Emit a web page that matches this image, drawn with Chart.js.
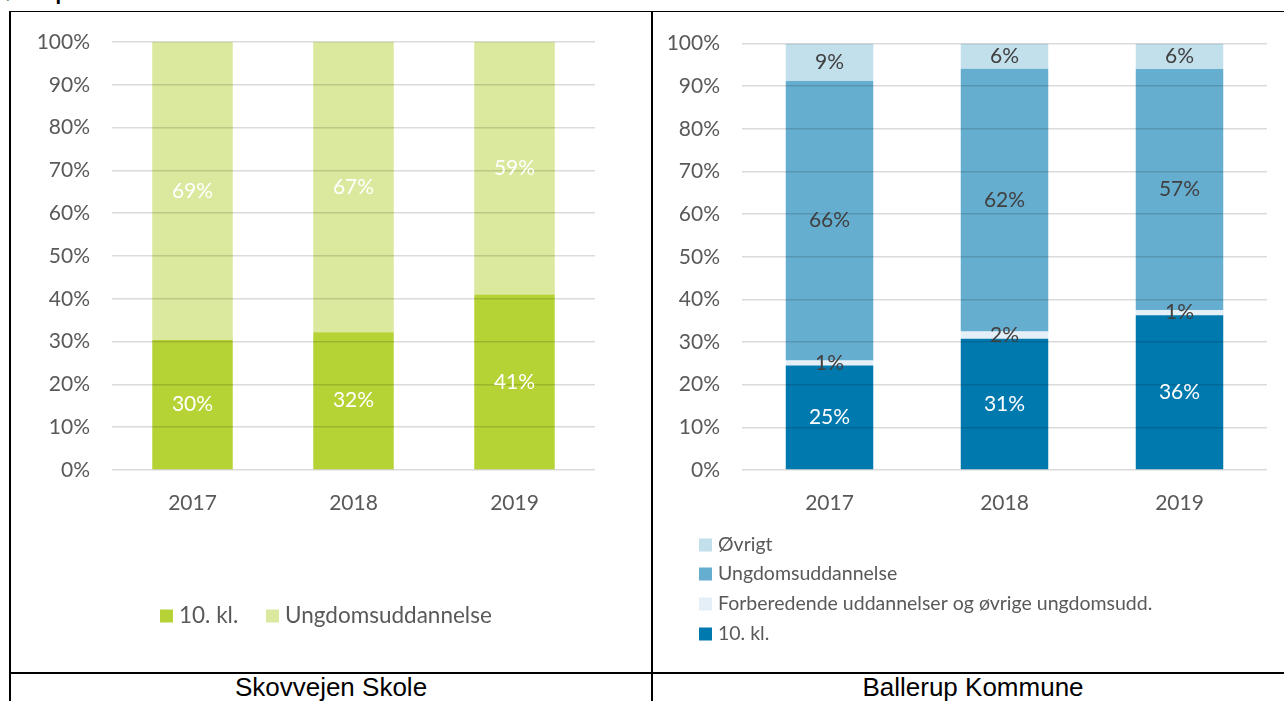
<!DOCTYPE html>
<html>
<head>
<meta charset="utf-8">
<script src="https://cdn.jsdelivr.net/npm/chart.js@4.4.1/dist/chart.umd.min.js"></script>
<style>
    body { margin: 0; width: 1284px; height: 701px; background: #fff; position: relative; overflow: hidden; font-family: 'Liberation Sans', Arial, sans-serif; }
    #heading { position: absolute; left: 0; top: -18px; font-weight: bold; font-size: 20px; color: #000; }
    .line { position: absolute; background: #000; }
    .box { position: absolute; top: 13px; height: 659px; }
    .caption { position: absolute; top: 672px; font-size: 26px; text-align: center; color: #000; }
</style>
</head>
<body>
<div id="heading">førsteprioritet.</div>

<div class="line" style="left:9px; top:11px; width:1275px; height:1px;"></div>
<div class="line" style="left:9px; top:11px; width:2px; height:690px;"></div>
<div class="line" style="left:651px; top:11px; width:2px; height:690px;"></div>
<div class="line" style="left:9px; top:672px; width:1275px; height:2px;"></div>

<div class="box" style="left:12px; width:638px;"><canvas id="skoleChart"></canvas></div>
<div class="box" style="left:654px; width:630px;"><canvas id="kommuneChart"></canvas></div>

<div class="caption" style="left:11px; width:640px;">Skovvejen Skole</div>
<div class="caption" style="left:653px; width:640px;">Ballerup Kommune</div>

<script>
// Data (andel i procent)
const years = ['2017', '2018', '2019'];
const yTicks = [0, 10, 20, 30, 40, 50, 60, 70, 80, 90, 100];

// Skovvejen Skole
const skoleTiendeKl = [30.4, 32.2, 41.0];
const skoleUngdom = [69.6, 67.8, 59.0];

// Ballerup Kommune
const kommuneTiendeKl = [24.5, 30.8, 36.3];
const kommuneForberedende = [1.2, 1.7, 1.2];
const kommuneUngdom = [65.5, 61.6, 56.5];
const kommuneOevrigt = [8.8, 5.9, 6.0];

const fontFamily = 'Lato, "Open Sans", sans-serif';
const textGrey = '#595959';

// labels in the middle of each bar segment
const barLabels = {
    id: 'barLabels',
    afterDraw(chart, args, opts) {
        const ctx = chart.ctx;
        const fmt = opts.round || Math.round;
        ctx.save();
        ctx.font = '21px ' + fontFamily;
        ctx.textAlign = 'center';
        ctx.textBaseline = 'middle';
        chart.data.datasets.forEach((ds, i) => {
            const meta = chart.getDatasetMeta(i);
            meta.data.forEach((bar, j) => {
                const { x, y, base } = bar.getProps(['x', 'y', 'base'], true);
                ctx.fillStyle = ds.labelColor;
                ctx.fillText(fmt(ds.data[j]) + '%', x, (y + base) / 2);
            });
        });
        ctx.restore();
    }
};

// simple legend with square boxes, placed by the options
const boxLegend = {
    id: 'boxLegend',
    afterDraw(chart, args, opts) {
        const ctx = chart.ctx;
        ctx.save();
        ctx.font = opts.fontSize + 'px ' + fontFamily;
        ctx.textBaseline = 'middle';
        ctx.textAlign = 'left';
        opts.items.forEach(item => {
            const ds = chart.data.datasets[item.index];
            ctx.fillStyle = ds.backgroundColor;
            ctx.fillRect(item.x, item.y - 6.5, 13, 13);
            ctx.fillStyle = textGrey;
            ctx.fillText(ds.label, item.x + 19, item.y);
        });
        ctx.restore();
    }
};

function makeOptions(axisWidth, padding, legend, round) {
    return {
        responsive: true,
        maintainAspectRatio: false,
        animation: false,
        layout: { padding: padding },
        scales: {
            x: {
                stacked: true,
                grid: { display: false },
                border: { display: false },
                ticks: { color: textGrey, font: { family: fontFamily, size: 21 }, padding: 13 },
                afterFit: s => { s.height = 60; }
            },
            y: {
                stacked: true,
                min: 0,
                max: 100,
                afterBuildTicks: s => { s.ticks = yTicks.map(v => ({ value: v })); },
                grid: { color: 'rgba(0,0,0,0.14)', lineWidth: 1.5, drawTicks: false, z: 1 },
                border: { display: false },
                ticks: {
                    color: textGrey,
                    font: { family: fontFamily, size: 21 },
                    padding: 22,
                    callback: v => v + '%'
                },
                afterFit: s => {
                    s.width = axisWidth;
                    s.paddingTop = 12;
                    s.paddingBottom = 12;
                }
            }
        },
        plugins: {
            legend: { display: false },
            tooltip: { enabled: false },
            boxLegend: legend,
            barLabels: { round: round }
        }
    };
}

document.addEventListener('DOMContentLoaded', () => {
    new Chart(document.getElementById('skoleChart'), {
        type: 'bar',
        data: {
            labels: years,
            datasets: [
                { label: '10. kl.', data: skoleTiendeKl, backgroundColor: '#b5d334', labelColor: '#ffffff', barPercentage: 0.5, categoryPercentage: 1 },
                { label: 'Ungdomsuddannelse', data: skoleUngdom, backgroundColor: '#dae99d', labelColor: '#ffffff', barPercentage: 0.5, categoryPercentage: 1 }
            ]
        },
        options: makeOptions(100, { top: 29, right: 55, bottom: 142, left: 0 }, {
            fontSize: 22.5,
            items: [
                { index: 0, x: 148, y: 603 },
                { index: 1, x: 254, y: 603 }
            ]
        }, Math.floor),
        plugins: [barLabels, boxLegend]
    });

    new Chart(document.getElementById('kommuneChart'), {
        type: 'bar',
        data: {
            labels: years,
            datasets: [
                { label: '10. kl.', data: kommuneTiendeKl, backgroundColor: '#0079af', labelColor: '#ffffff', barPercentage: 0.5, categoryPercentage: 1 },
                { label: 'Forberedende uddannelser og øvrige ungdomsudd.', data: kommuneForberedende, backgroundColor: '#e4eff7', labelColor: '#404040', barPercentage: 0.5, categoryPercentage: 1 },
                { label: 'Ungdomsuddannelse', data: kommuneUngdom, backgroundColor: '#66aed0', labelColor: '#404040', barPercentage: 0.5, categoryPercentage: 1 },
                { label: 'Øvrigt', data: kommuneOevrigt, backgroundColor: '#c2dfec', labelColor: '#404040', barPercentage: 0.5, categoryPercentage: 1 }
            ]
        },
        options: makeOptions(88, { top: 30.5, right: 17, bottom: 142, left: 0 }, {
            fontSize: 19.5,
            items: [
                { index: 3, x: 45, y: 532 },
                { index: 2, x: 45, y: 561 },
                { index: 1, x: 45, y: 591 },
                { index: 0, x: 45, y: 621 }
            ]
        }, Math.round),
        plugins: [barLabels, boxLegend]
    });
});
</script>
</body>
</html>
